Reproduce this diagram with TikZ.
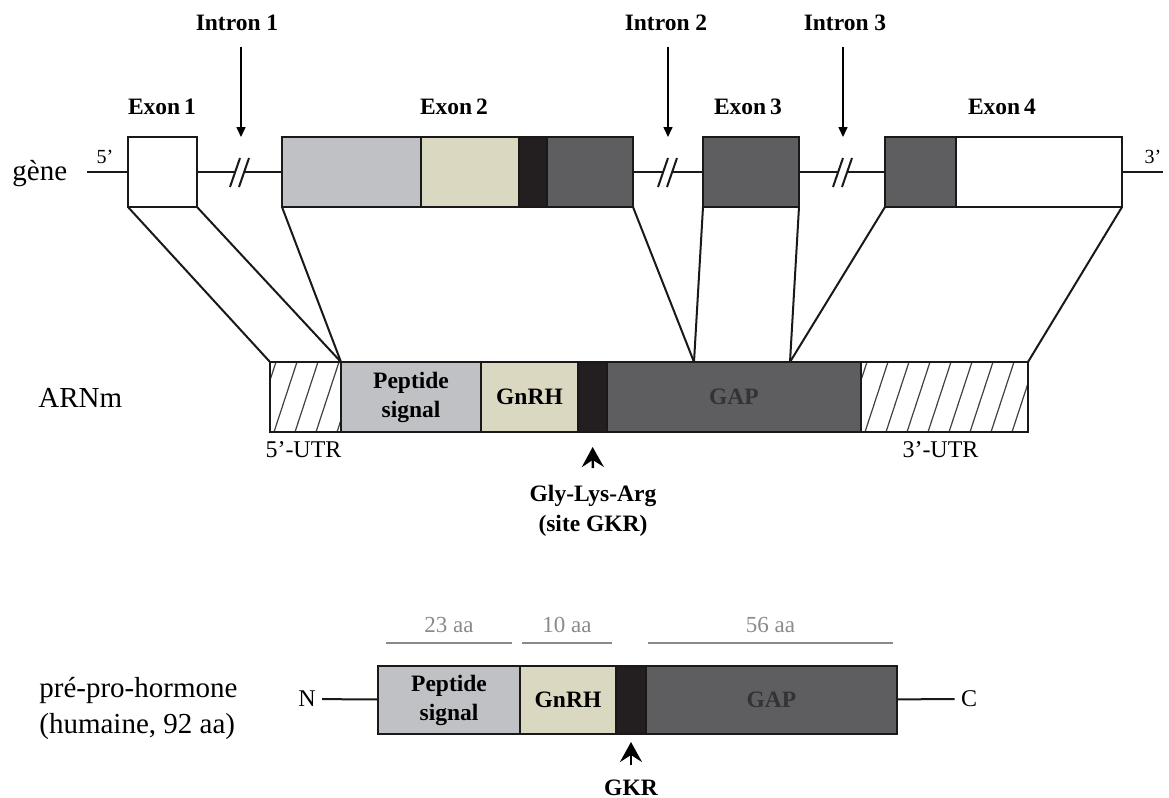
\documentclass[tikz,border=0pt]{standalone}
\usepackage{fontspec}
\setmainfont{Liberation Serif}
\usetikzlibrary{arrows.meta,positioning,calc}

\definecolor{sigcol}{HTML}{C0C1C5}
\definecolor{gnrhcol}{HTML}{DBD8C2}
\definecolor{gkrcol}{HTML}{231F20}
\definecolor{gapcol}{HTML}{5E5E60}
\definecolor{aacol}{HTML}{8A8A8A}

\begin{document}
\begin{tikzpicture}[x=0.5pt, y=-0.5pt,
  seg/.style={rectangle, draw=black!90, line width=1pt, minimum width=#1*0.5pt,
              minimum height=35pt, inner sep=0pt, outer sep=0pt, align=center,
              font=\bfseries\fontsize{11.75}{14.5}\selectfont},
  pseg/.style={minimum height=34pt},
  gline/.style={line width=1pt, draw=black!90},
  hatch/.style={line width=0.6pt, draw=black!75},
  intarr/.style={line width=0.8pt, -{Triangle[length=5pt,width=4.5pt]}},
  gkrarr/.style={line width=1.2pt, -{Stealth[length=10pt,width=11pt,inset=3.5pt]}},
  lab/.style={font=\bfseries\fontsize{11.75}{15}\selectfont},
  big/.style={font=\fontsize{14.5}{18}\selectfont, inner sep=0pt},
  endlab/.style={font=\fontsize{10}{12}\selectfont},
  utrlab/.style={font=\fontsize{12}{14}\selectfont},
  termlab/.style={font=\fontsize{12}{14}\selectfont, inner sep=3pt},
  aaline/.style={line width=1pt, draw=aacol},
  aalab/.style={text=aacol, font=\fontsize{11.5}{14}\selectfont, inner sep=0pt, above=4.6pt}
]
  \useasboundingbox (0,0) rectangle (1169,798);

  % gene
  \node[big, anchor=base west] (lgene) at (12,180) {gène};
  \node[seg=69, fill=white] (ex1) at (162.5,172) {};
  \node[seg=139, fill=sigcol, anchor=west] (e2a) at (282,172) {};
  \node[seg=98, fill=gnrhcol, right=0pt of e2a] (e2b) {};
  \node[seg=28, fill=gkrcol, right=0pt of e2b] (e2c) {};
  \node[seg=86, fill=gapcol, right=0pt of e2c] (e2d) {};
  \node[seg=96, fill=gapcol, anchor=west] (ex3) at (703,172) {};
  \node[seg=71, fill=gapcol, anchor=west] (e4a) at (885,172) {};
  \node[seg=166, fill=white, right=0pt of e4a] (e4b) {};

  \node[lab] (lex1) at (162,107) {Exon\,1};
  \node[lab] (lex2) at (454,107) {Exon\,2};
  \node[lab] (lex3) at (748,107) {Exon\,3};
  \node[lab] (lex4) at (1002,107) {Exon\,4};
  \node[lab] (lin1) at (237,23) {Intron 1};
  \node[lab] (lin2) at (666,23) {Intron 2};
  \node[lab] (lin3) at (845,23) {Intron 3};
  \node[endlab] (l5) at (105,157) {5'};
  \node[endlab] (l3) at (1153,157) {3'};

  \coordinate (g5) at (87,172);
  \coordinate (g3) at (1163,172);
  \coordinate (br1) at (240,172);
  \coordinate (br2) at (668,172);
  \coordinate (br3) at (843,172);
  \draw[gline] (g5) -- (ex1.west);
  \draw[gline] (ex1.east) -- ($(br1)+(-5,0)$) ($(br1)+(4,0)$) -- (e2a.west);
  \draw[gline] (e2d.east) -- ($(br2)+(-5,0)$) ($(br2)+(4,0)$) -- (ex3.west);
  \draw[gline] (ex3.east) -- ($(br3)+(-5,0)$) ($(br3)+(4,0)$) -- (e4a.west);
  \draw[gline] (e4b.east) -- (g3);
  \foreach \b in {br1,br2,br3} {
    \draw[gline] ($(\b)+(-10,15)$) -- ($(\b)+(0,-14)$);
    \draw[gline] ($(\b)+(-1,15)$) -- ($(\b)+(9,-14)$);
  }

  % intron arrows
  \coordinate (t1) at (241,47);
  \coordinate (t2) at (668,47);
  \coordinate (t3) at (843,47);
  \draw[intarr] (t1) -- (t1 |- ex1.north);
  \draw[intarr] (t2) -- (t2 |- ex1.north);
  \draw[intarr] (t3) -- (t3 |- ex1.north);

  % ARNm
  \node[big, anchor=base west] (larn) at (38,407) {ARNm};
  \node[seg=71, fill=white, anchor=west] (u5) at (270,397) {};
  \node[seg=140, fill=sigcol, right=0pt of u5] (msig) {Peptide\\signal};
  \node[seg=97, fill=gnrhcol, right=0pt of msig] (mgnrh) {GnRH};
  \node[seg=29, fill=gkrcol, right=0pt of mgnrh] (mgkr) {};
  \node[seg=254, fill=gapcol, text=black!80, right=0pt of mgkr] (mgap) {GAP};
  \node[seg=167, fill=white, right=0pt of mgap] (u3) {};
  \foreach \utr in {u5,u3} {
    \begin{scope}
      \clip (\utr.south west) rectangle (\utr.north east);
      \foreach \k in {-2,...,8}
        \draw[hatch] ($(\utr.south west)+(4+21*\k,0)$) -- ++(23,-70);
    \end{scope}
    \draw[gline] (\utr.south west) rectangle (\utr.north east);
  }
  \node[utrlab] (lu5) at ($(u5.south)+(-2,18)$) {5'-UTR};
  \node[utrlab] (lu3) at ($(u3.south)+(-4,18)$) {3'-UTR};

  % exons to ARNm
  \coordinate (j23) at ($(mgap.north west)+(87,0)$);
  \coordinate (j34) at ($(mgap.north west)+(183,0)$);
  \draw[gline] (ex1.south west) -- (u5.north west);
  \draw[gline] (ex1.south east) -- (u5.north east);
  \draw[gline] (e2a.south west) -- (msig.north west);
  \draw[gline] (e2d.south east) -- (j23);
  \draw[gline] (ex3.south west) -- (j23);
  \draw[gline] (ex3.south east) -- (j34);
  \draw[gline] (e4a.south west) -- (j34);
  \draw[gline] (e4b.south east) -- (u3.north east);

  \node[lab, align=center, anchor=north, inner sep=0pt] (lmgkr) at (593,485) {Gly-Lys-Arg\\(site GKR)};
  \draw[gkrarr, shorten <=8.5pt, shorten >=7.5pt] (lmgkr.north) -- (mgkr.south);

  % pre-pro-hormone
  \node[big, anchor=base west] (lpph) at (39,697) {pré-pro-hormone};
  \node[big, anchor=base west] (lhum) at (39,733) {(humaine, 92 aa)};
  \node[seg=142, pseg, fill=sigcol, anchor=west] (psig) at (378,700) {Peptide\\signal};
  \node[seg=96, pseg, fill=gnrhcol, right=0pt of psig] (pgnrh) {GnRH};
  \node[seg=30, pseg, fill=gkrcol, right=0pt of pgnrh] (pgkr) {};
  \node[seg=251, pseg, fill=gapcol, text=black!80, right=0pt of pgkr] (pgap) {GAP};
  \node[termlab] (nterm) at (307,699) {N};
  \node[termlab] (cterm) at (969,699) {C};
  \draw[gline] (nterm) -- (psig);
  \draw[gline] (pgap) -- (cterm);

  \draw[aaline] ($(psig.north west)+(8,-23)$) -- ($(psig.north east)+(-8,-23)$) node[midway, aalab] {23 aa};
  \draw[aaline] ($(pgnrh.north west)+(2,-23)$) -- ($(pgnrh.north east)+(-4,-23)$) node[midway, aalab] {10 aa};
  \draw[aaline] ($(pgap.north west)+(2,-23)$) -- ($(pgap.north east)+(-4,-23)$) node[midway, aalab] {56 aa};

  \node[lab, anchor=north, inner sep=0pt] (lpgkr) at (631,780) {GKR};
  \draw[gkrarr, shorten <=7.5pt, shorten >=4pt] (lpgkr.north) -- (pgkr.south);
\end{tikzpicture}
\end{document}
